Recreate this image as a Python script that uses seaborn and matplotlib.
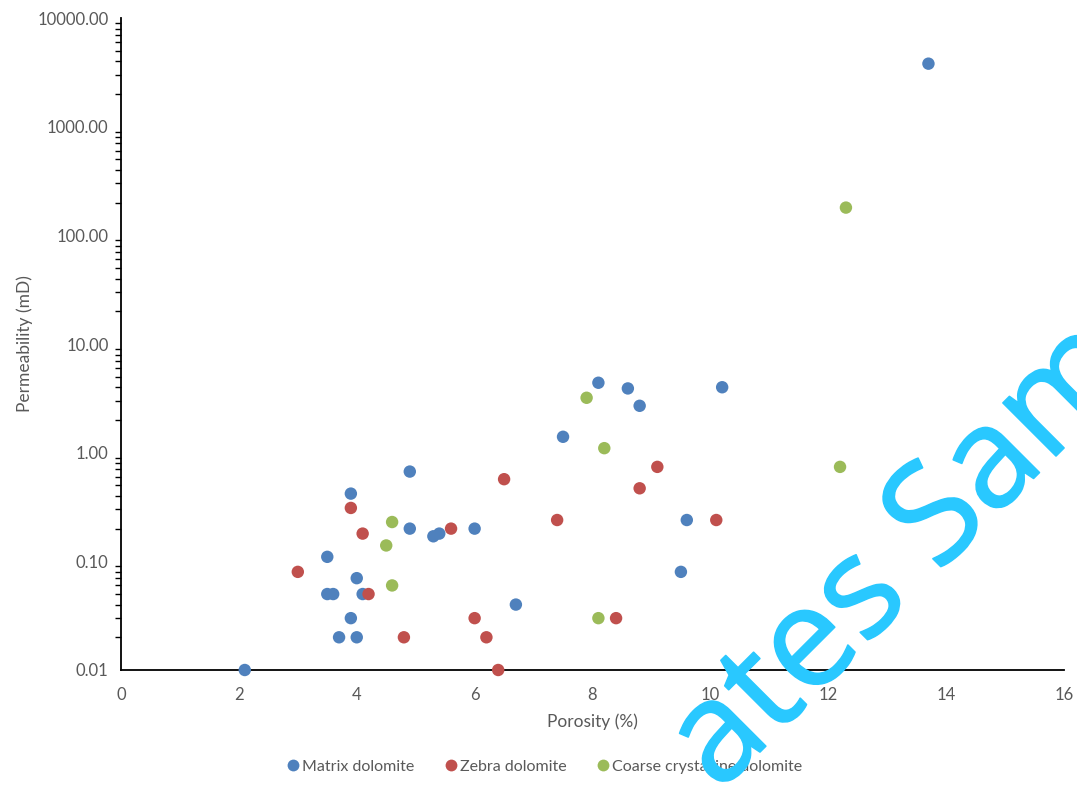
import matplotlib
matplotlib.use("Agg")
import matplotlib.pyplot as plt
import matplotlib.patheffects as pe
import matplotlib.ticker as mticker
import numpy as np
import pandas as pd
import seaborn as sns

# Porosity (%) and permeability (mD) for each dolomite type
matrix_porosity = [2.1, 3.5, 3.5, 3.6, 3.9, 4.0, 3.9, 3.7, 4.0, 4.1, 4.9, 4.9,
                   5.3, 5.4, 6.0, 6.7, 7.5, 8.1, 8.6, 8.8, 10.2, 9.6, 9.5, 13.7]
matrix_perm = [0.01, 0.11, 0.05, 0.05, 0.42, 0.07, 0.03, 0.02, 0.02, 0.05, 0.67, 0.20,
               0.17, 0.18, 0.20, 0.04, 1.4, 4.4, 3.9, 2.7, 4.0, 0.24, 0.08, 3800.0]

zebra_porosity = [3.0, 3.9, 4.1, 4.2, 4.8, 5.6, 6.0, 6.2, 6.4, 6.5, 7.4, 8.4, 8.8, 9.1, 10.1]
zebra_perm = [0.08, 0.31, 0.18, 0.05, 0.02, 0.20, 0.03, 0.02, 0.01, 0.57, 0.24, 0.03,
              0.47, 0.74, 0.24]

coarse_porosity = [4.5, 4.6, 4.6, 7.9, 8.2, 8.1, 12.2, 12.3]
coarse_perm = [0.14, 0.23, 0.06, 3.2, 1.1, 0.03, 0.74, 180.0]

groups = ["Matrix dolomite", "Zebra dolomite", "Coarse crystalline dolomite"]
palette = ["#4F81BD", "#C0504D", "#9BBB59"]

df = pd.DataFrame({
    "Porosity": matrix_porosity + zebra_porosity + coarse_porosity,
    "Permeability": matrix_perm + zebra_perm + coarse_perm,
    "Type": ([groups[0]] * len(matrix_porosity) + [groups[1]] * len(zebra_porosity)
             + [groups[2]] * len(coarse_porosity)),
})

sns.set_style("white")
plt.rcParams["font.family"] = ["Lato", "DejaVu Sans"]
text_color = "#595959"

fig = plt.figure(figsize=(10.77, 7.85), dpi=100)
ax = fig.add_axes([121 / 1077, 1 - 670 / 785, (1064 - 121) / 1077, (670 - 18) / 785])

sns.scatterplot(data=df, x="Porosity", y="Permeability", hue="Type", hue_order=groups,
                palette=palette, s=80, edgecolor="none", ax=ax, legend=False, clip_on=False,
                zorder=3)

ax.set_yscale("log")
ax.set_ylim(0.01, 10000)
ax.set_xlim(0, 16)
ax.set_xticks(np.arange(0, 17, 2))
ax.xaxis.set_major_formatter(mticker.FormatStrFormatter("%d"))
ax.yaxis.set_major_locator(mticker.LogLocator(base=10, numticks=10))
ax.yaxis.set_minor_locator(mticker.LogLocator(base=10, subs=np.arange(2, 10), numticks=100))
ax.yaxis.set_major_formatter(mticker.FuncFormatter(lambda v, p: f"{v:.2f}"))
ax.yaxis.set_minor_formatter(mticker.NullFormatter())

for side in ["top", "right"]:
    ax.spines[side].set_visible(False)
for side in ["left", "bottom"]:
    ax.spines[side].set_color("black")
    ax.spines[side].set_linewidth(1.3)

ax.tick_params(axis="x", which="major", direction="out", length=4, width=1.2,
               color="black", labelsize=12, labelcolor=text_color, pad=8)
ax.tick_params(axis="y", which="major", direction="out", length=5, width=1.2,
               color="black", labelsize=12, labelcolor=text_color, pad=4)
ax.tick_params(axis="y", which="minor", direction="out", length=4, width=1.0, color="black",
               left=True)

ax.set_xlabel("Porosity (%)", fontsize=12.5, color=text_color, labelpad=8)
ax.set_ylabel("Permeability (mD)", fontsize=12.5, color=text_color, labelpad=3)
ax.grid(False)

handles = [plt.Line2D([], [], marker="o", linestyle="none", markersize=8.5,
                      markerfacecolor=c, markeredgecolor="none") for c in palette]
fig.legend(handles, groups, loc="lower center", bbox_to_anchor=(0.505, -0.004), ncol=3,
           frameon=False, fontsize=11.5, labelcolor=text_color, handletextpad=0.05,
           columnspacing=1.8, handlelength=1.0)

# Diagonal watermark over the plot
wm_color = "#29C8FF"
fig.text(929 / 1077, 1 - 583 / 785, "ates Sam", fontsize=101, color=wm_color,
         family="Open Sans", rotation=45, rotation_mode="anchor", ha="center",
         va="baseline", zorder=10,
         path_effects=[pe.withStroke(linewidth=1.2, foreground=wm_color)])

fig.savefig("out.png", dpi=100)
